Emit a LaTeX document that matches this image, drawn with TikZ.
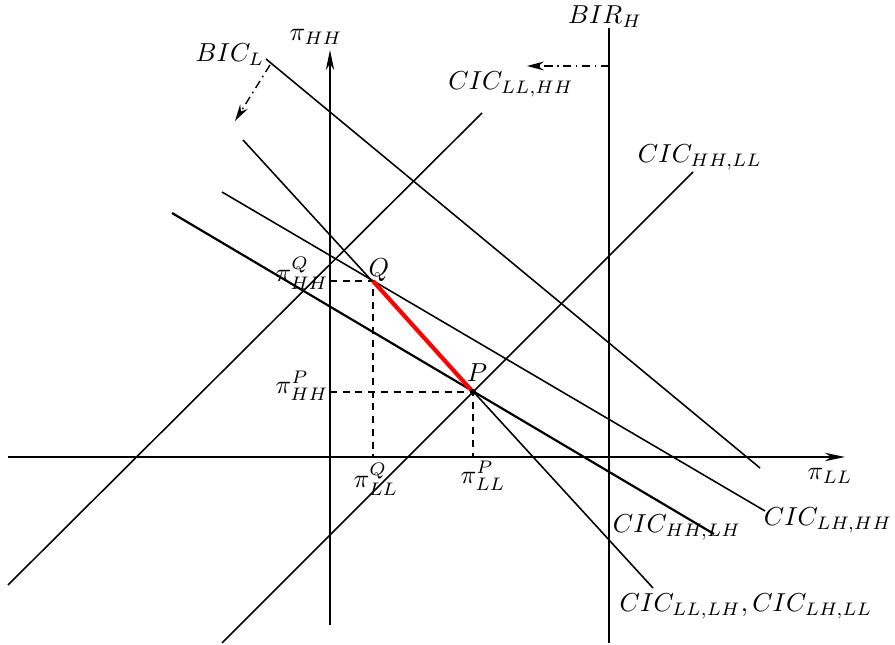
\documentclass[tikz,border=0pt]{standalone}
\usetikzlibrary{arrows.meta}
\begin{document}
\begin{tikzpicture}[x=0.385pt,y=-0.385pt,
  ln/.style={line width=0.6pt},
  thk/.style={line width=0.85pt},
  axis/.style={line width=0.65pt,-{Stealth[length=7.7pt,width=3.2pt,inset=2.4pt]}},
  shiftarrow/.style={line width=0.55pt,dash pattern=on 3.2pt off 1.7pt on 0.65pt off 1.7pt,-{Stealth[length=6.5pt,width=3.4pt,inset=2.2pt]}},
  guide/.style={line width=0.55pt,dash pattern=on 2.7pt off 2.2pt},
  lbl/.style={inner sep=0pt}]
\useasboundingbox (0,0) rectangle (895,645);
% coordinates
\coordinate (xa0) at (8,457);   \coordinate (xa1) at (845,457);
\coordinate (ya0) at (330,625); \coordinate (ya1) at (330,50);
\coordinate (bir0) at (609,28); \coordinate (bir1) at (609,643);
\coordinate (bic0) at (266,59); \coordinate (bic1) at (760,468);
\coordinate (c1a) at (8,585);   \coordinate (c1b) at (482,113);
\coordinate (c2a) at (222,643); \coordinate (c2b) at (693,172);
\coordinate (c3a) at (172,213); \coordinate (c3b) at (714,534);
\coordinate (c4a) at (222,192); \coordinate (c4b) at (765,511);
\coordinate (c5a) at (243,140); \coordinate (c5b) at (653,588);
\coordinate (Q) at (373,281);
\coordinate (P) at (473,392);
\coordinate (qy) at (330,281); \coordinate (qx) at (373,457);
\coordinate (py) at (330,392); \coordinate (px) at (473,457);
\coordinate (ba0) at (270,65);  \coordinate (ba1) at (235,121);
\coordinate (ra0) at (609,66);  \coordinate (ra1) at (527,66);
% lines
\draw[axis] (xa0) -- (xa1);
\draw[axis] (ya0) -- (ya1);
\draw[ln] (bir0) -- (bir1);
\draw[ln] (bic0) -- (bic1);
\draw[ln] (c1a) -- (c1b);
\draw[ln] (c2a) -- (c2b);
\draw[thk] (c3a) -- (c3b);
\draw[ln] (c4a) -- (c4b);
\draw[ln] (c5a) -- (c5b);
\draw[guide] (qy) -- (Q) -- (qx);
\draw[guide] (py) -- (P) -- (px);
\draw[red,line width=1.6pt] (Q) -- (P);
\fill (P) circle (1.2pt);
\draw[shiftarrow] (ba0) -- (ba1);
\draw[shiftarrow] (ra0) -- (ra1);
% labels
\node[lbl] (lpihh) at (316,37) {$\pi_{HH}$};
\node[lbl] (lpill) at (830,476) {$\pi_{LL}$};
\node[lbl] (lbir) at (605,17) {$BIR_H$};
\node[lbl] (lbic) at (230,55) {$BIC_L$};
\node[lbl] (lc1) at (511,84) {$CIC_{LL,HH}$};
\node[lbl] (lc2) at (700,157) {$CIC_{HH,LL}$};
\node[lbl] (lc3) at (677,527) {$CIC_{HH,LH}$};
\node[lbl] (lc4) at (828,520) {$CIC_{LH,HH}$};
\node[lbl] (lc5) at (746,606) {$CIC_{LL,LH},CIC_{LH,LL}$};
\node[lbl] (lqy) at (302,273) {$\pi^Q_{HH}$};
\node[lbl] (lpy) at (302,386) {$\pi^P_{HH}$};
\node[lbl] (lqx) at (376,479) {$\pi^Q_{LL}$};
\node[lbl] (lpx) at (483,476) {$\pi^P_{LL}$};
\node[lbl] (lQ) at (379,270) {$Q$};
\node[lbl] (lP) at (477,373) {$P$};
\end{tikzpicture}
\end{document}
